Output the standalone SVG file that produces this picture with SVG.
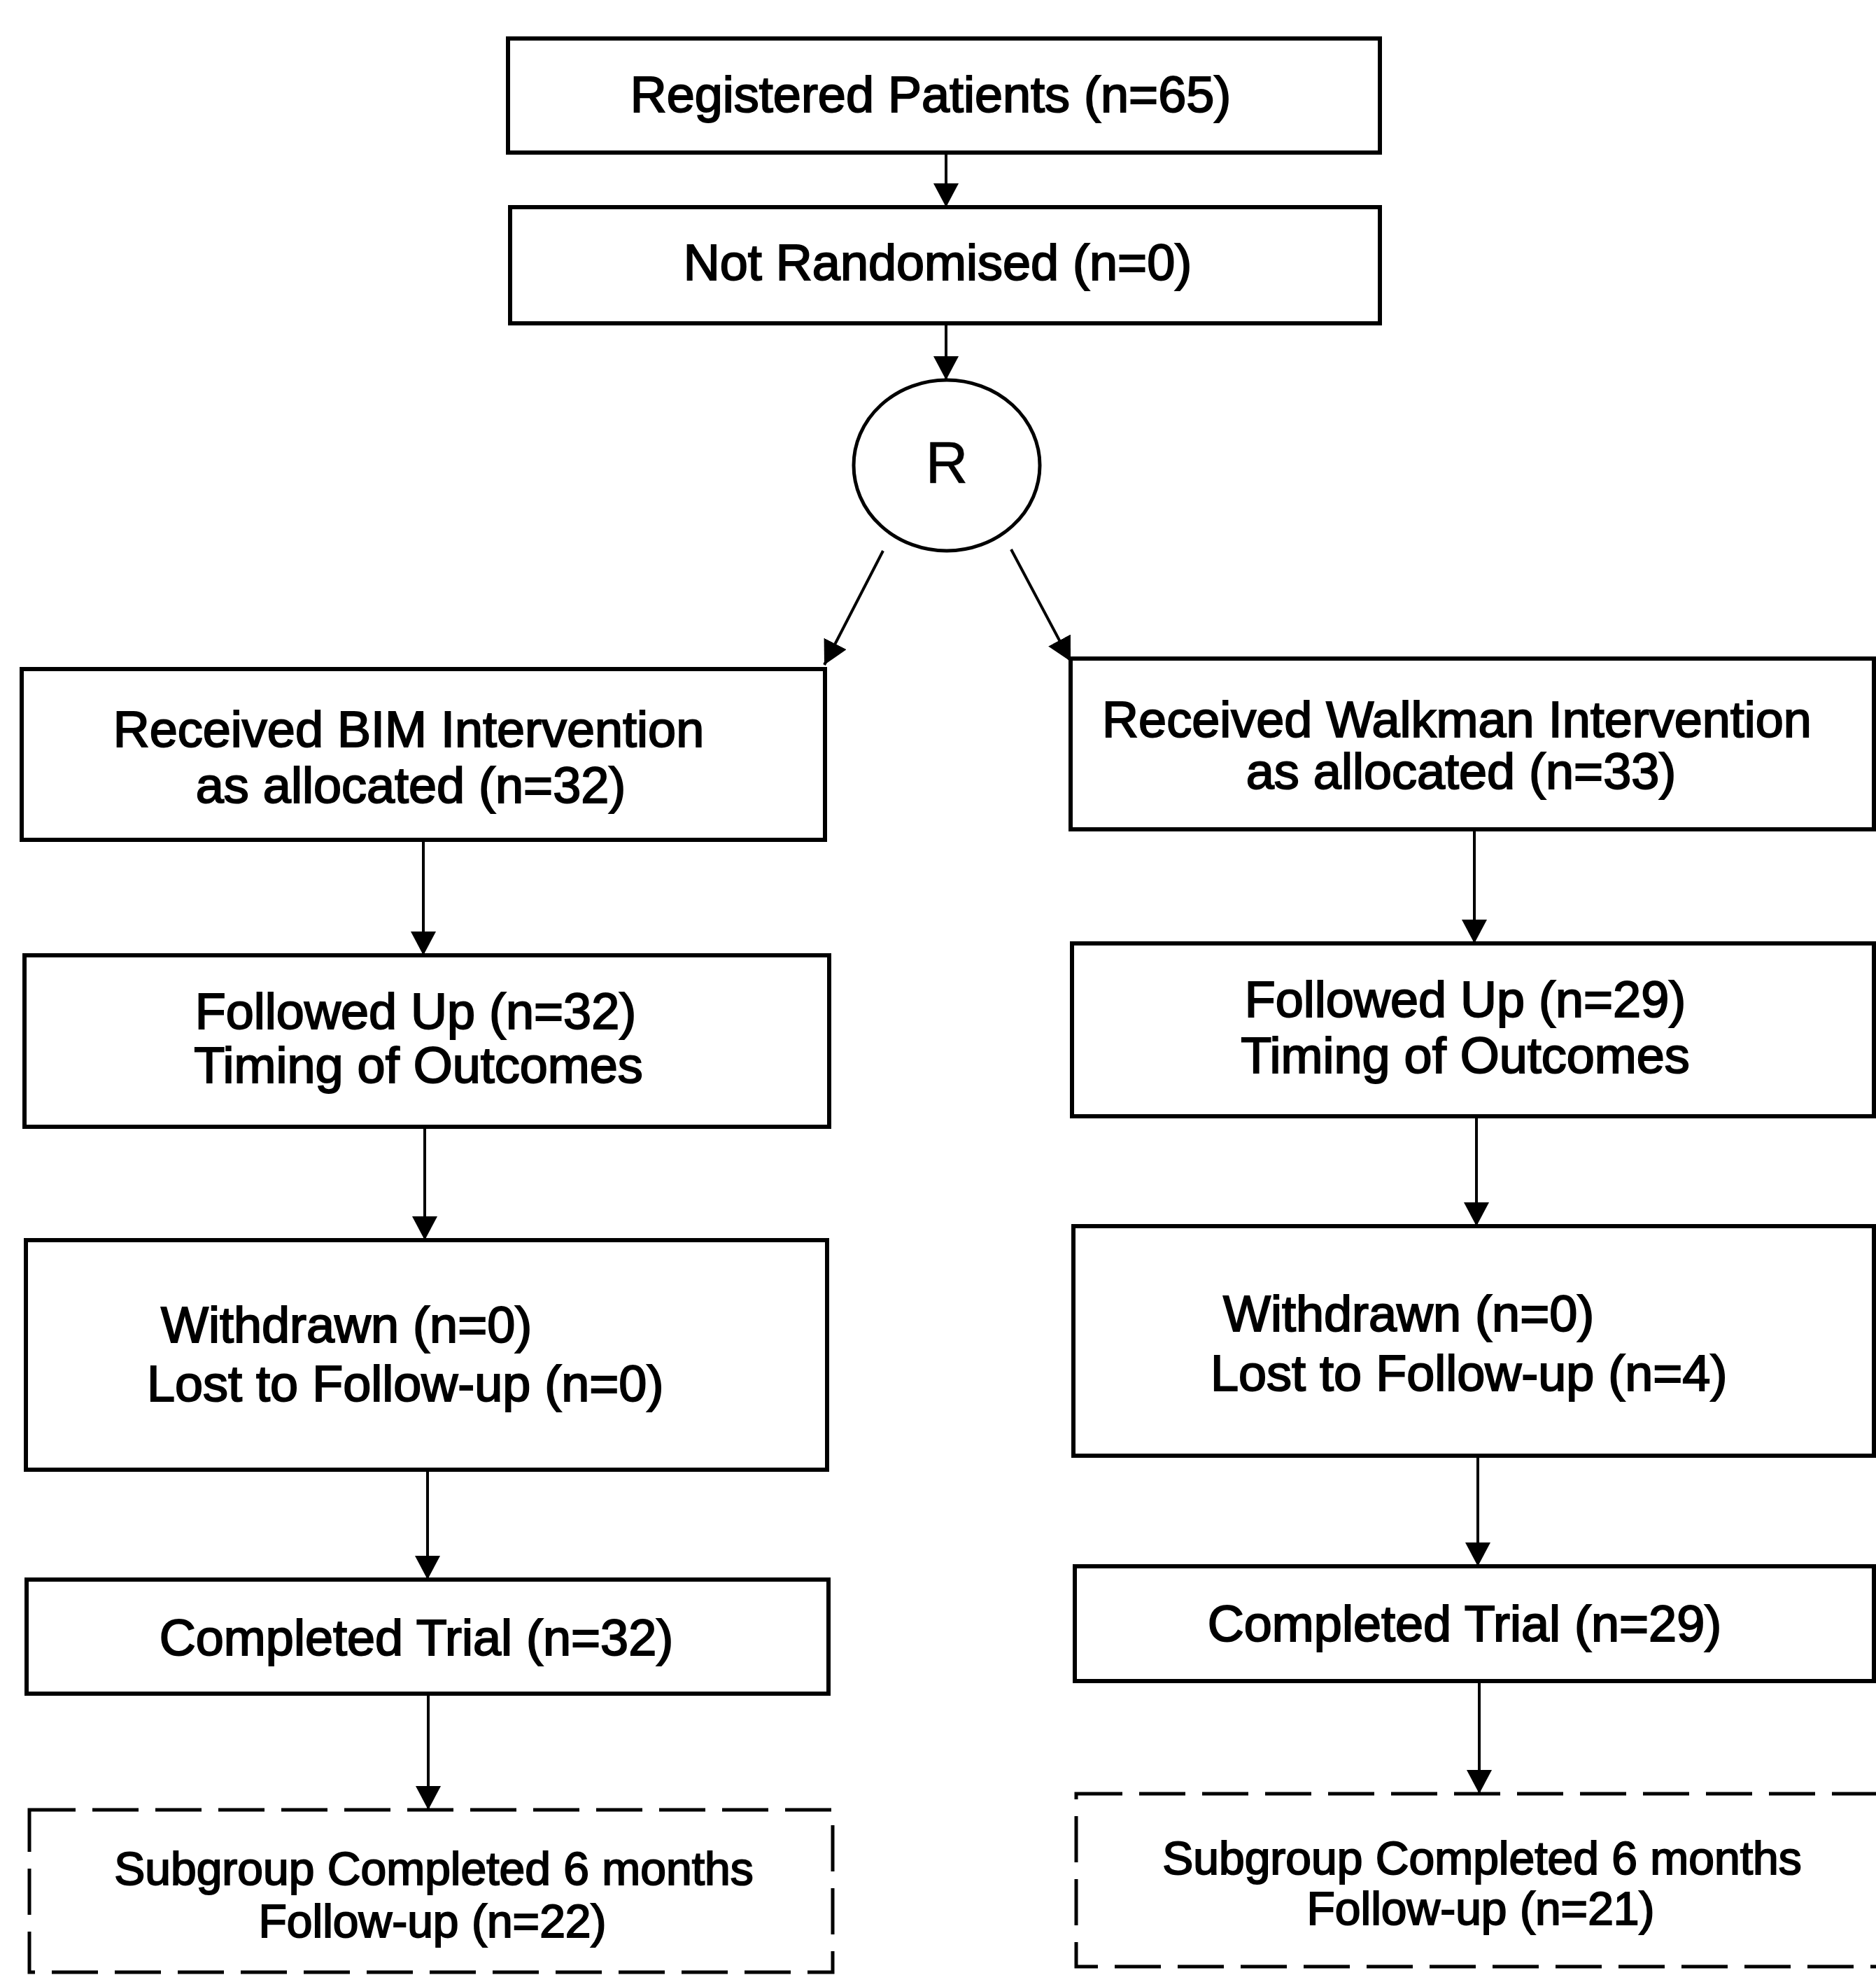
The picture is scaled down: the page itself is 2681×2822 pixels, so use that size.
<svg xmlns="http://www.w3.org/2000/svg" width="2681" height="2822" viewBox="0 0 2681 2822">
<defs>
<style>
.box{fill:#fff;stroke:#000;stroke-width:6}
.dash{fill:#fff;stroke:#000;stroke-width:5;stroke-dasharray:66 24}
.t{font-family:"Liberation Sans",Arial,sans-serif;font-size:72px;fill:#000;stroke:#000;stroke-width:2}
.s{font-size:66px}
.c{text-anchor:middle}
.conn{stroke:#000;stroke-width:4;fill:none;marker-end:url(#ah)}
</style>
<marker id="ah" viewBox="0 0 34 36" refX="34" refY="18" markerWidth="34" markerHeight="36" orient="auto" markerUnits="userSpaceOnUse">
<path d="M0,0 L34,18 L0,36 z" fill="#000"/>
</marker>
</defs>
<rect width="2681" height="2822" fill="#fff"/>
<g id="connectors">
<line class="conn" x1="1352" y1="218" x2="1352" y2="296"/>
<line class="conn" x1="1352" y1="462" x2="1352" y2="543"/>
<line class="conn" x1="1262" y1="787" x2="1178" y2="950"/>
<line class="conn" x1="1445" y1="785" x2="1530" y2="945"/>
<line class="conn" x1="605" y1="1200" x2="605" y2="1365"/>
<line class="conn" x1="2107" y1="1185" x2="2107" y2="1348"/>
<line class="conn" x1="607" y1="1610" x2="607" y2="1772"/>
<line class="conn" x1="2110" y1="1595" x2="2110" y2="1752"/>
<line class="conn" x1="611" y1="2100" x2="611" y2="2257"/>
<line class="conn" x1="2112" y1="2080" x2="2112" y2="2238"/>
<line class="conn" x1="612" y1="2420" x2="612" y2="2586"/>
<line class="conn" x1="2114" y1="2402" x2="2114" y2="2563"/>
</g>
<g id="registered">
<rect class="box" x="726" y="55" width="1246" height="163"/>
<text class="t c" x="1330" y="160">Registered Patients (n=65)</text>
</g>
<g id="not-randomised">
<rect class="box" x="729" y="296" width="1243" height="166"/>
<text class="t c" x="1340" y="400">Not Randomised (n=0)</text>
</g>
<g id="randomisation">
<ellipse cx="1353" cy="665" rx="133" ry="122" fill="#fff" stroke="#000" stroke-width="5"/>
<text class="t c" x="1353" y="690" style="font-size:84px;stroke-width:0.5">R</text>
</g>
<g id="bim-allocated">
<rect class="box" x="31" y="956" width="1148" height="244"/>
<text class="t c" x="584" y="1067">Received BIM Intervention</text>
<text class="t c" x="587" y="1147">as allocated (n=32)</text>
</g>
<g id="walkman-allocated">
<rect class="box" x="1530" y="941" width="1148" height="244"/>
<text class="t c" x="2082" y="1053">Received Walkman Intervention</text>
<text class="t c" x="2088" y="1127">as allocated (n=33)</text>
</g>
<g id="bim-followed">
<rect class="box" x="35" y="1365" width="1150" height="245"/>
<text class="t c" x="594" y="1470">Followed Up (n=32)</text>
<text class="t c" x="598" y="1547">Timing of Outcomes</text>
</g>
<g id="walkman-followed">
<rect class="box" x="1532" y="1348" width="1146" height="247"/>
<text class="t c" x="2094" y="1453">Followed Up (n=29)</text>
<text class="t c" x="2094" y="1533">Timing of Outcomes</text>
</g>
<g id="bim-withdrawn">
<rect class="box" x="37" y="1772" width="1145" height="328"/>
<text class="t" x="230" y="1918">Withdrawn (n=0)</text>
<text class="t" x="210" y="2002">Lost to Follow-up (n=0)</text>
</g>
<g id="walkman-withdrawn">
<rect class="box" x="1534" y="1752" width="1144" height="328"/>
<text class="t" x="1748" y="1902">Withdrawn (n=0)</text>
<text class="t" x="1730" y="1987">Lost to Follow-up (n=4)</text>
</g>
<g id="bim-completed">
<rect class="box" x="38" y="2257" width="1146" height="163"/>
<text class="t c" x="595" y="2365">Completed Trial (n=32)</text>
</g>
<g id="walkman-completed">
<rect class="box" x="1536" y="2238" width="1142" height="164"/>
<text class="t c" x="2093" y="2345">Completed Trial (n=29)</text>
</g>
<g id="bim-subgroup">
<rect class="dash" x="42" y="2586" width="1148" height="232"/>
<text class="t s c" x="620" y="2693">Subgroup Completed 6 months</text>
<text class="t s c" x="618" y="2768">Follow-up (n=22)</text>
</g>
<g id="walkman-subgroup">
<rect class="dash" x="1538" y="2563" width="1152" height="247"/>
<text class="t s c" x="2118" y="2678">Subgroup Completed 6 months</text>
<text class="t s c" x="2116" y="2750">Follow-up (n=21)</text>
</g>
</svg>
